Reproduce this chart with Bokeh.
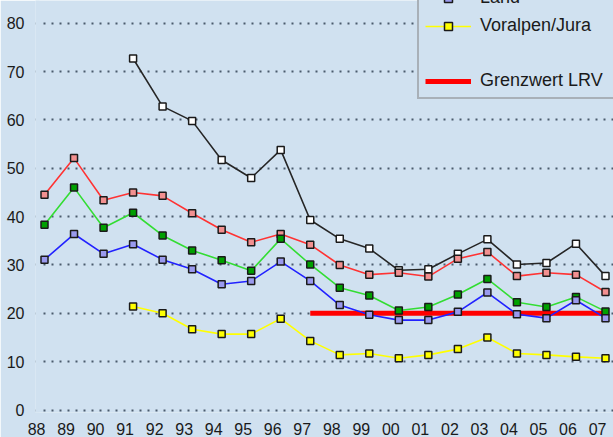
from bokeh.plotting import figure
from bokeh.models import (Range1d, LinearAxis, FixedTicker, Grid, Legend, LegendItem,
                          BoxAnnotation)
from bokeh.embed import file_html
from bokeh.resources import INLINE

# ---- data -------------------------------------------------------------
years = ["88", "89", "90", "91", "92", "93", "94", "95", "96", "97",
         "98", "99", "00", "01", "02", "03", "04", "05", "06", "07"]
stadt = [None, None, None, 72.7, 62.8, 59.8, 51.7, 48.0, 53.8, 39.3,
         35.4, 33.4, 28.9, 29.1, 32.3, 35.3, 30.1, 30.4, 34.4, 27.7]
agglo = [44.5, 52.1, 43.4, 45.0, 44.3, 40.7, 37.3, 34.7, 36.4, 34.2,
         30.0, 28.0, 28.4, 27.6, 31.3, 32.7, 27.7, 28.4, 28.0, 24.4]
stadtnah = [38.3, 46.0, 37.7, 40.8, 36.1, 33.0, 31.0, 28.8, 35.4, 30.1,
            25.3, 23.7, 20.6, 21.3, 23.9, 27.1, 22.3, 21.3, 23.4, 20.4]
land = [31.1, 36.4, 32.3, 34.3, 31.1, 29.1, 26.0, 26.7, 30.7, 26.7,
        21.7, 19.7, 18.6, 18.6, 20.3, 24.3, 19.8, 19.0, 22.7, 19.0]
voralpen = [None, None, None, 21.4, 20.0, 16.7, 15.7, 15.7, 18.9, 14.3,
            11.4, 11.7, 10.7, 11.4, 12.6, 15.0, 11.7, 11.4, 11.0, 10.7]
grenzwert_years = ["97", "98", "99", "00", "01", "02", "03", "04", "05", "06", "07"]
grenzwert = [20] * len(grenzwert_years)
y_ticks = [0, 10, 20, 30, 40, 50, 60, 70, 80]

BG = "#d0e1f0"
LABEL_SHIFT = 0.27

xs_all = list(range(len(years)))
x_start, x_end = -0.305, 19.271
y_start, y_end = -0.513, 84.70

p = figure(width=613, height=437, output_backend="svg", toolbar_location=None,
           x_range=Range1d(x_start, x_end), y_range=Range1d(y_start, y_end),
           x_axis_location=None, y_axis_location="left",
           min_border_left=35, min_border_right=0, min_border_top=0,
           min_border_bottom=22)
p.background_fill_color = BG
p.border_fill_color = BG
p.outline_line_color = None
p.xgrid.visible = False
p.ygrid.visible = False

# y axis
yax = p.yaxis[0]
yax.ticker = FixedTicker(ticks=y_ticks)
yax.axis_line_color = None
yax.major_tick_line_color = None
yax.minor_tick_line_color = None
yax.major_label_standoff = 5
yax.major_label_text_font = "Liberation Sans"
yax.major_label_text_font_size = "16px"
yax.major_label_text_color = "#1a1a1a"

# dotted grid
grid = Grid(dimension=1, ticker=FixedTicker(ticks=y_ticks),
            grid_line_color="#4a5b6c", grid_line_width=2, grid_line_dash="2 6")
p.add_layout(grid)

# the dotted lines begin just left of the first year's points
grid_mask = BoxAnnotation(left=x_start, right=-0.17, bottom=y_start, top=y_end,
                          fill_color=BG, fill_alpha=1.0, line_alpha=0,
                          level="glyph")
p.add_layout(grid_mask)

# x axis (labels sit slightly left of the data points)
p.extra_x_ranges = {"lab": Range1d(x_start + LABEL_SHIFT, x_end + LABEL_SHIFT)}
xax = LinearAxis(x_range_name="lab", ticker=FixedTicker(ticks=xs_all),
                 major_label_overrides={i: y for i, y in enumerate(years)})
xax.axis_line_color = None
xax.major_tick_line_color = None
xax.minor_tick_line_color = None
xax.major_label_standoff = 4
xax.major_label_text_font = "Liberation Sans"
xax.major_label_text_font_size = "16px"
xax.major_label_text_color = "#1a1a1a"
p.add_layout(xax, "below")

idx = {y: i for i, y in enumerate(years)}

# Grenzwert line
gx = [idx[y] for y in grenzwert_years]
r_gw = p.line(gx, grenzwert, line_color="#ff0000", line_width=5)


def series(vals, line_color, fill_color):
    xs = [i for i, v in zip(xs_all, vals) if v is not None]
    ys = [v for v in vals if v is not None]
    rl = p.line(xs, ys, line_color=line_color, line_width=1.6)
    rs = p.scatter(xs, ys, marker="square", size=7, fill_color=fill_color,
                   line_color="#1a1a1a", line_width=1.5)
    return rl, rs


s_stadt = series(stadt, "#262626", "#ffffff")
s_agglo = series(agglo, "#ff3333", "#f29090")
s_nah = series(stadtnah, "#33dd33", "#00a000")
s_land = series(land, "#2222ff", "#9a9aee")
s_vor = series(voralpen, "#ffff00", "#ffff00")

blank = p.line([], [], line_alpha=0)

legend = Legend(items=[
    LegendItem(label="Land", renderers=list(s_land)),
    LegendItem(label="Voralpen/Jura", renderers=list(s_vor)),
    LegendItem(label=" ", renderers=[blank]),
    LegendItem(label="Grenzwert LRV", renderers=[r_gw]),
], location=(382, 313), orientation="vertical")
legend.margin = 0
legend.padding = 6
legend.spacing = 7
legend.glyph_width = 46
legend.glyph_height = 20
legend.label_height = 20
legend.label_width = 160
legend.label_standoff = 9
legend.label_text_font = "Liberation Sans"
legend.label_text_font_size = "18px"
legend.label_text_color = "#1a1a1a"
legend.border_line_color = "#808080"
legend.border_line_width = 2
legend.background_fill_color = BG
legend.background_fill_alpha = 1.0
p.add_layout(legend, "center")

open("out.html", "w").write(file_html(p, INLINE))
